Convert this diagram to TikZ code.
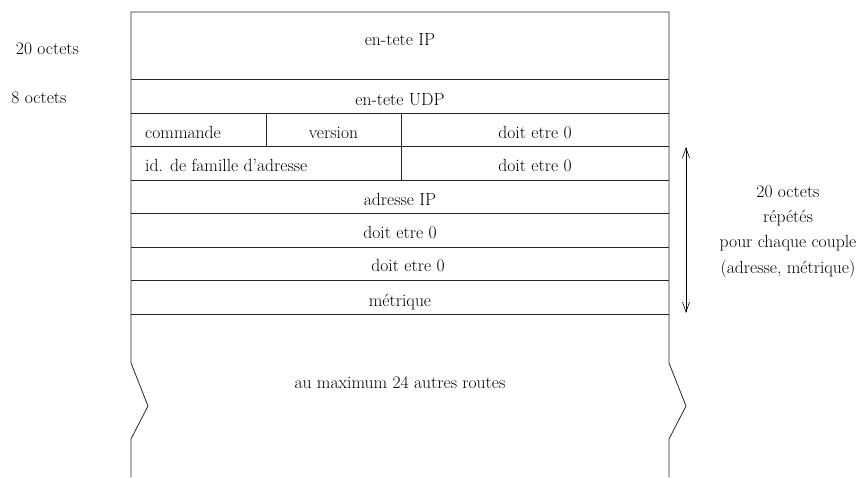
\documentclass[tikz,border=0pt]{standalone}
\usepackage{fontspec}
\usetikzlibrary{arrows.meta}
\begin{document}
\begin{tikzpicture}[x=1pt,y=-1pt,
  lbl/.style={inner sep=0pt,anchor=base,font=\rmfamily\fontsize{17.6}{25}\selectfont},
  lbll/.style={lbl,anchor=base west},
  frame/.style={line width=0.8pt,black!85},
  dim/.style={line width=0.6pt,{Straight Barb[length=10pt,width=7pt]}-{Straight Barb[length=10pt,width=7pt]}}]
\useasboundingbox (0,0) rectangle (867,478);
% outer frame
\draw[frame] (131,477) -- (131,439) -- (148,406) -- (131,363) -- (131,12) -- (669,12)
  -- (669,363) -- (686,406) -- (669,439) -- (669,477);
% row lines
\foreach \y in {79,113,146,180,213,247,280,314}
  \draw[frame] (131,\y) -- (669,\y);
\draw[frame] (266,113) -- (266,146);
\draw[frame] (401,113) -- (401,180);
% texts
\node[lbl] (ip) at (400,46) {en-tete IP};
\node[lbl] (udp) at (400,106) {en-tete UDP};
\node[lbll] (cmd) at (145,139) {commande};
\node[lbl] (ver) at (333.5,139) {version};
\node[lbl] (z1) at (535,139) {doit etre 0};
\node[lbll] (fam) at (145,172) {id. de famille d’adresse};
\node[lbl] (z2) at (535,172) {doit etre 0};
\node[lbl] (adr) at (400,206) {adresse IP};
\node[lbl] (z3) at (400,239) {doit etre 0};
\node[lbl] (z4) at (408,272) {doit etre 0};
\node[lbl] (met) at (400,306) {métrique};
\node[lbl] (max) at (400,388) {au maximum 24 autres routes};
\node[lbl] (l20) at (47.5,55) {20 octets};
\node[lbl] (l8) at (39,104) {8 octets};
\node[lbl] (r1) at (788,198) {20 octets};
\node[lbl] (r2) at (788,223) {répétés};
\node[lbl] (r3) at (788,248) {pour chaque couple};
\node[lbl] (r4) at (788,273) {(adresse, métrique)};
% dimension arrow
\coordinate (at) at (686,147);
\coordinate (ab) at (686,313);
\draw[dim] (at) -- (ab);
\end{tikzpicture}
\end{document}
